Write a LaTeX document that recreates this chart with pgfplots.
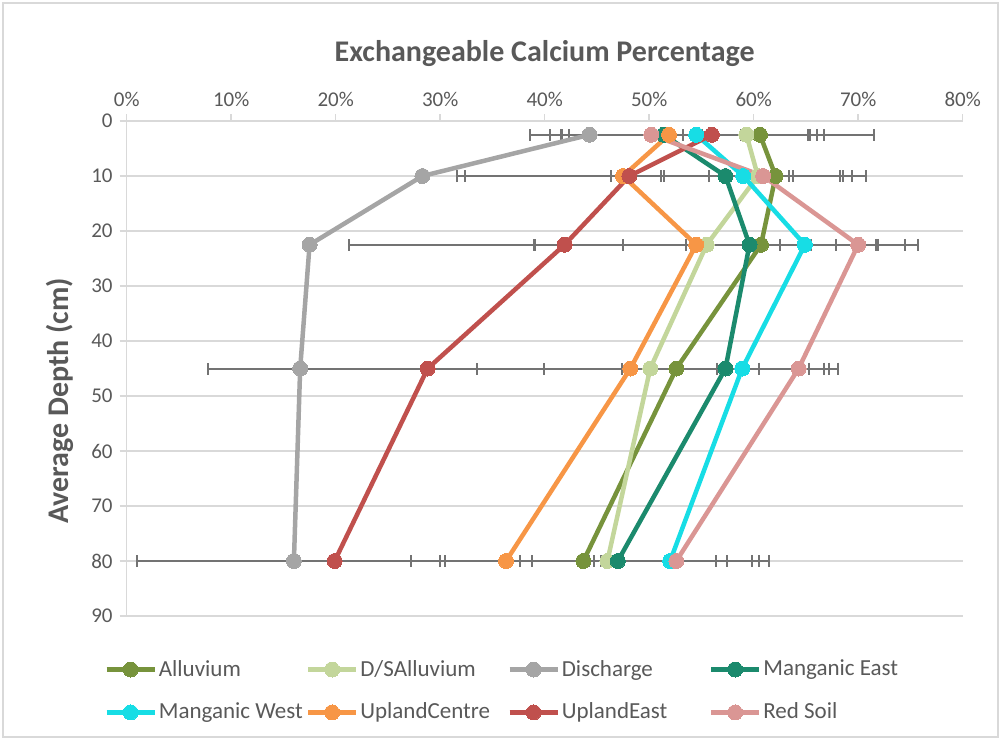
\documentclass[border=0pt]{standalone}
\usepackage{fontspec}
\setmainfont{Carlito}
\usepackage{pgfplots}
\usepackage{pgfplotstable}
\pgfplotsset{compat=1.18}

\definecolor{allc}{HTML}{77933C}
\definecolor{dsac}{HTML}{C3D69B}
\definecolor{disc}{HTML}{A5A5A5}
\definecolor{mec}{HTML}{1B8A6D}
\definecolor{mwc}{HTML}{17DDE5}
\definecolor{ucc}{HTML}{F79646}
\definecolor{uec}{HTML}{C0504D}
\definecolor{rsc}{HTML}{DA9694}
\definecolor{errc}{HTML}{737373}
\definecolor{gridc}{HTML}{D9D9D9}
\definecolor{textc}{HTML}{595959}

% depth (cm), exchangeable Ca (%), error (+/-)
\pgfplotstableread{
y x e
2.5 60.6 5.5
10 62.1 6.4
22.5 60.7 7.2
45 52.6 12.7
80 43.7 13.7
}\alluvium
\pgfplotstableread{
y x e
2.5 59.3 6.1
10 60.4 9.0
22.5 55.5 16.4
45 50.1 16.6
80 46.0 15.5
}\dsalluvium
\pgfplotstableread{
y x e
2.5 44.3 5.7
10 28.3 0.2
22.5 17.5 0.2
45 16.6 0.2
80 16.0 0.2
}\discharge
\pgfplotstableread{
y x e
2.5 51.4 9.7
10 57.3 11.0
22.5 59.6 12.1
45 57.3 9.9
80 47.0 9.4
}\mangeast
\pgfplotstableread{
y x e
2.5 54.5 12.2
10 59.0 3.3
22.5 64.9 10.8
45 58.9 1.6
80 52.0 7.8
}\mangwest
\pgfplotstableread{
y x e
2.5 51.9 13.3
10 47.5 15.9
22.5 54.5 15.5
45 48.2 8.3
80 36.3 9.1
}\uplandcentre
\pgfplotstableread{
y x e
2.5 56.0 15.5
10 48.1 15.7
22.5 41.9 20.6
45 28.8 21.0
80 19.9 18.9
}\uplandeast
\pgfplotstableread{
y x e
2.5 50.2 8.6
10 60.9 9.8
22.5 70.0 4.5
45 64.3 3.8
80 52.6 7.9
}\redsoil

\pgfplotsset{
  errlayer/.style={draw=errc, line width=1pt, only marks, mark=none, forget plot,
    error bars/.cd, x dir=both, x explicit,
    error bar style={draw=errc, line width=1pt, solid},
    error mark options={rotate=90, draw=errc, line width=1pt, mark size=3pt}},
  ser/.style={color=#1, line width=2.25pt, mark=*, mark size=3.75pt,
    mark options={solid, fill=#1, draw=#1, line width=0pt}},
}

\newcommand{\lbl}[1]{\makebox[72.5pt][l]{#1}}

\begin{document}
\begin{tikzpicture}
\path[use as bounding box] (0,0) rectangle (500.5pt,370pt);
\draw[gridc, line width=0.6pt] (1.5pt,1.5pt) rectangle (499pt,368.5pt);
\begin{axis}[
  at={(63.35pt,62pt)}, anchor=south west,
  width=418pt, height=247.5pt, scale only axis,
  xmin=0, xmax=80, ymin=0, ymax=90,
  y dir=reverse,
  axis x line=top, axis y line=left,
  axis line style={gridc, line width=0.75pt, -},
  xtick={0,10,...,80}, ytick={0,10,...,90},
  xticklabel={\pgfmathprintnumber{\tick}\%},
  /pgf/number format/assume math mode=true,
  tick align=outside, major tick length=3.5pt,
  tick style={gridc, line width=0.75pt},
  ymajorgrids, grid style={gridc, line width=0.75pt},
  ticklabel style={font=\fontsize{10.5}{12}\selectfont, text=textc},
  title={Exchangeable Calcium Percentage},
  title style={font=\fontsize{15}{17}\selectfont\bfseries, text=textc,
    at={(axis description cs:0.5,1)}, anchor=center, yshift=27.5pt},
  ylabel={Average Depth (cm)},
  ylabel style={font=\fontsize{15}{17}\selectfont\bfseries, text=textc,
    at={(axis description cs:-0.0798,0.435)}, anchor=center},
  legend columns=4,
  legend style={at={(axis description cs:-0.0344,-0.076)}, anchor=north west,
    draw=none, fill=none, font=\fontsize{11.5}{13}\selectfont, text=textc,
    nodes={inner sep=1pt}, column sep=0pt, row sep=10pt},
  legend image code/.code={\draw[mark repeat=2, mark phase=2, #1]
    plot coordinates {(0pt,0pt) (12pt,0pt) (24pt,0pt)};},
  clip=false,
]
% error bars underneath every series
\addplot[errlayer] table[x=x, y=y, x error=e] {\alluvium};
\addplot[errlayer] table[x=x, y=y, x error=e] {\dsalluvium};
\addplot[errlayer] table[x=x, y=y, x error=e] {\discharge};
\addplot[errlayer] table[x=x, y=y, x error=e] {\mangeast};
\addplot[errlayer] table[x=x, y=y, x error=e] {\mangwest};
\addplot[errlayer] table[x=x, y=y, x error=e] {\uplandcentre};
\addplot[errlayer] table[x=x, y=y, x error=e] {\uplandeast};
\addplot[errlayer] table[x=x, y=y, x error=e] {\redsoil};

\addplot[ser=allc] table[x=x, y=y] {\alluvium};
\addlegendentry{\lbl{Alluvium}}
\addplot[ser=dsac] table[x=x, y=y] {\dsalluvium};
\addlegendentry{\lbl{D/SAlluvium}}
\addplot[ser=disc] table[x=x, y=y] {\discharge};
\addlegendentry{\lbl{Discharge}}
\addplot[ser=mec] table[x=x, y=y] {\mangeast};
\addlegendentry{\lbl{Manganic East}}
\addplot[ser=mwc] table[x=x, y=y] {\mangwest};
\addlegendentry{\lbl{Manganic West}}
\addplot[ser=ucc] table[x=x, y=y] {\uplandcentre};
\addlegendentry{\lbl{UplandCentre}}
\addplot[ser=uec] table[x=x, y=y] {\uplandeast};
\addlegendentry{\lbl{UplandEast}}
\addplot[ser=rsc] table[x=x, y=y] {\redsoil};
\addlegendentry{\lbl{Red Soil}}
\end{axis}
\end{tikzpicture}
\end{document}
